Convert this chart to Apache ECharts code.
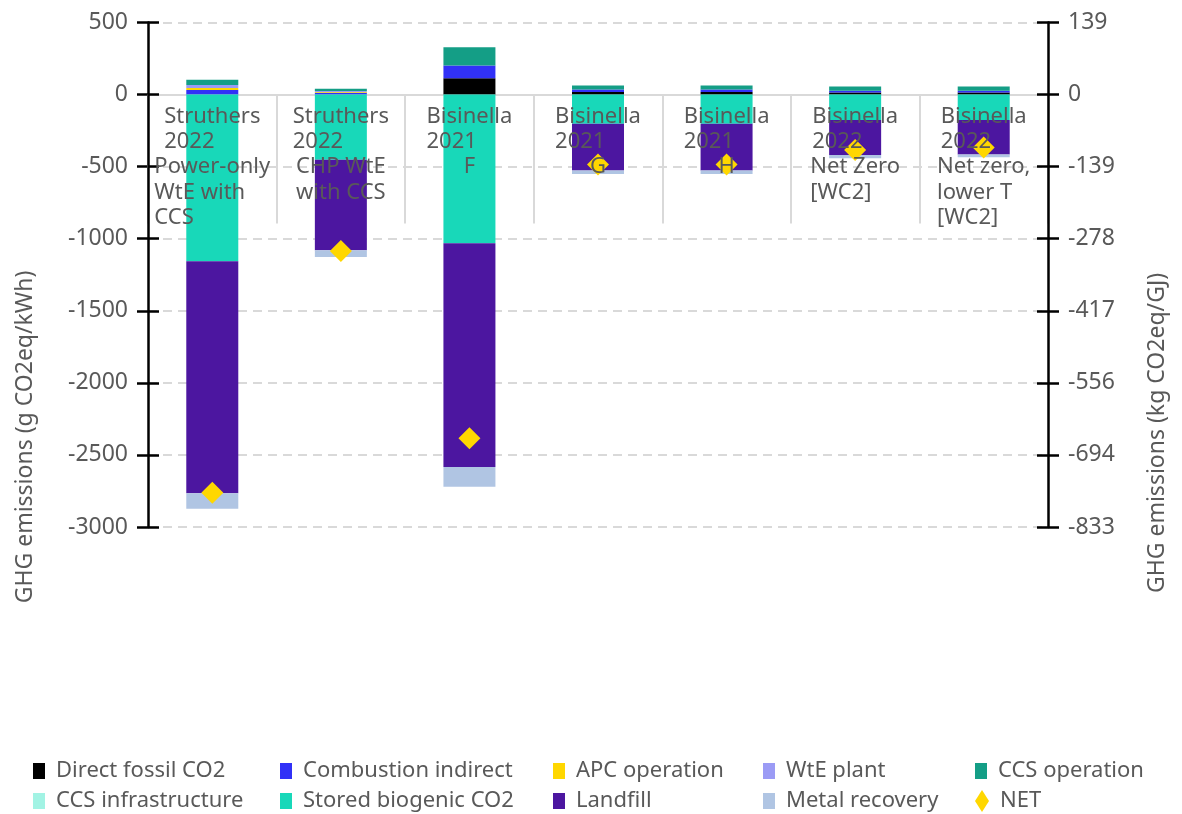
<!DOCTYPE html>
<html>
<head>
<meta charset="utf-8">
<style>
  html, body { margin: 0; padding: 0; background: #ffffff; }
  #chart { width: 1182px; height: 814px; }
</style>
<script src="https://cdn.jsdelivr.net/npm/echarts@6/dist/echarts.min.js"></script>
</head>
<body>
<div id="chart"></div>
<script>
// ---- Category labels (blocks of lines) ----
const categoryBlocks = [
  [["Struthers", "2022"], ["Power-only", "WtE with", "CCS"]],
  [["Struthers", "2022"], ["CHP WtE", "with CCS"]],
  [["Bisinella", "2021"], ["F"]],
  [["Bisinella", "2021"], ["G"]],
  [["Bisinella", "2021"], ["H"]],
  [["Bisinella", "2022"], ["Net Zero", "[WC2]"]],
  [["Bisinella", "2022"], ["Net zero,", "lower T", "[WC2]"]]
];
const categories = categoryBlocks.map(b => b.map(l => l.join(" ")).join(" "));

// ---- Series values (g CO2eq/kWh) ----
const directFossil      = [0, 0, 113, 17, 17, 14, 14];
const combustionIndirect= [32, 12, 88, 18, 18, 12, 12];
const apcOperation      = [14, 6, 0, 0, 0, 0, 0];
const wtePlant          = [20, 6, 0, 0, 0, 0, 0];
const ccsOperation      = [36, 16, 127, 28, 28, 30, 30];
const ccsInfrastructure = [0, 0, 0, 0, 0, 0, 0];
const storedBiogenic    = [-1157, -452, -1032, -203, -203, -177, -177];
const landfill          = [-1608, -628, -1552, -323, -323, -242, -238];
const metalRecovery     = [-109, -46, -136, -25, -25, -23, -19];
const netValues         = [-2763, -1085, -2385, -485, -485, -384, -368];

// ---- Axis ticks ----
const leftMin = -3000, leftMax = 500, leftInterval = 500;
const rightMin = -3000 / 3.6, rightMax = 500 / 3.6, rightInterval = 500 / 3.6;

const FONT = "'Noto Sans', 'DejaVu Sans', sans-serif";
const TXT = '#595959';
const GRID = '#d9d9d9';

const GRID_TOP = 22.5, GRID_BOTTOM = 287, CHART_H = 814;
const plotH = CHART_H - GRID_TOP - GRID_BOTTOM;
const zeroFromBottom = plotH * (0 - leftMin) / (leftMax - leftMin);

// measure line widths so each block of lines is left-aligned and centred as a block
const cnv = document.createElement('canvas');
const ctx = cnv.getContext('2d');
ctx.font = "22px 'Noto Sans'";
const rich = {
  t: { align: 'center', fontSize: 22, fontFamily: FONT, color: TXT, lineHeight: 25.4 }
};
const labelStrings = categoryBlocks.map((blocks, i) =>
  blocks.map((lines, j) => {
    const widths = lines.map(l => ctx.measureText(l).width);
    const bw = Math.max(...widths);
    return lines.map((l, k) => {
      const gap = bw - widths[k];
      if (gap < 0.5) return '{t|' + l + '}';
      const key = 's' + i + '_' + j + '_' + k;
      rich[key] = { align: 'center', width: gap, fontSize: 22, fontFamily: FONT, lineHeight: 25.4, color: 'rgba(0,0,0,0)' };
      return '{t|' + l + '}{' + key + '| }';
    }).join('\n');
  }).join('\n')
);

const seriesDefs = [
  ['Direct fossil CO2', directFossil, '#000000'],
  ['Combustion indirect', combustionIndirect, '#3131F7'],
  ['APC operation', apcOperation, '#FFD700'],
  ['WtE plant', wtePlant, '#9B9BF5'],
  ['CCS operation', ccsOperation, '#149E86'],
  ['CCS infrastructure', ccsInfrastructure, '#A2F3E4'],
  ['Stored biogenic CO2', storedBiogenic, '#18D8B9'],
  ['Landfill', landfill, '#4C16A0'],
  ['Metal recovery', metalRecovery, '#B0C5E3']
];

const series = seriesDefs.map(([name, data, color]) => ({
  name, type: 'bar', stack: 'total', data,
  xAxisIndex: 0, yAxisIndex: 0, barWidth: 52,
  itemStyle: { color }, emphasis: { disabled: true }
}));
series.push({
  name: 'NET', type: 'scatter', data: netValues,
  xAxisIndex: 0, yAxisIndex: 0, symbol: 'diamond', symbolSize: 22,
  itemStyle: { color: '#FFD700', opacity: 1 }, z: 5, emphasis: { disabled: true }
});

// legend layout: 5 columns x 2 rows
const legendCols = [33, 280, 553, 763, 975];
const legendRows = [759, 789];
const legendNames = ['Direct fossil CO2', 'Combustion indirect', 'APC operation', 'WtE plant', 'CCS operation',
  'CCS infrastructure', 'Stored biogenic CO2', 'Landfill', 'Metal recovery', 'NET'];
const legends = legendNames.map((n, k) => ({
  data: [n],
  left: legendCols[k % 5], top: legendRows[Math.floor(k / 5)],
  padding: 0, selectedMode: false,
  itemWidth: n === 'NET' ? 14 : 12, itemHeight: n === 'NET' ? 22 : 16,
  icon: n === 'NET' ? 'diamond' : 'rect',
  itemStyle: { opacity: 1 },
  textStyle: { fontFamily: FONT, fontSize: 22, color: TXT, lineHeight: 24, padding: [0, 0, 0, 6] }
}));

const yTickLabel = { fontFamily: FONT, fontSize: 23, color: TXT, margin: 20 };

const option = {
  animation: false,
  backgroundColor: '#ffffff',
  grid: { left: 148, right: 134, top: GRID_TOP, bottom: GRID_BOTTOM, containLabel: false },
  legend: legends,
  xAxis: [
    {
      type: 'category', data: categories, position: 'bottom',
      axisLine: { show: true, onZero: true, onZeroAxisIndex: 0, lineStyle: { color: GRID, width: 2 } },
      axisTick: { show: true, interval: 0, length: 129, lineStyle: { color: GRID, width: 2 } },
      axisLabel: { show: false }, splitLine: { show: false }, z: 0
    },
    {
      type: 'category', data: categories, position: 'bottom',
      offset: -zeroFromBottom,
      axisLine: { show: false, onZero: false },
      axisTick: { show: false },
      axisLabel: {
        show: true, interval: 0, margin: 9, rich, align: 'center',
        fontFamily: FONT, fontSize: 22, color: TXT, lineHeight: 25.4,
        formatter: (v, idx) => labelStrings[idx]
      },
      splitLine: { show: false }, z: 10
    }
  ],
  yAxis: [
    {
      type: 'value', position: 'left', min: leftMin, max: leftMax, interval: leftInterval,
      axisLine: { show: false },
      axisTick: { show: true, inside: false, length: 11, lineStyle: { color: '#000', width: 2.5 } },
      axisLabel: Object.assign({}, yTickLabel, { formatter: v => String(v) }),
      splitLine: { show: true, lineStyle: { color: GRID, width: 2, type: [9, 6] } }, z: 0
    },
    {
      type: 'value', position: 'right', min: rightMin, max: rightMax, interval: rightInterval,
      axisLine: { show: false },
      axisTick: { show: true, inside: false, length: 11, lineStyle: { color: '#000', width: 2.5 } },
      axisLabel: Object.assign({}, yTickLabel, { formatter: v => String(Math.round(v)) }),
      splitLine: { show: false }, z: 0
    },
    {
      type: 'value', position: 'left', min: leftMin, max: leftMax, interval: leftInterval,
      axisLine: { show: true, onZero: false, lineStyle: { color: '#000', width: 2.5 } },
      axisTick: { show: true, inside: true, length: 11, lineStyle: { color: '#000', width: 2.5 } },
      axisLabel: { show: false }, splitLine: { show: false }, z: 4
    },
    {
      type: 'value', position: 'right', min: rightMin, max: rightMax, interval: rightInterval,
      axisLine: { show: true, onZero: false, lineStyle: { color: '#000', width: 2.5 } },
      axisTick: { show: true, inside: true, length: 11, lineStyle: { color: '#000', width: 2.5 } },
      axisLabel: { show: false }, splitLine: { show: false }, z: 4
    }
  ],
  graphic: [
    {
      type: 'text', x: 25, y: 437, rotation: Math.PI / 2,
      style: { text: 'GHG emissions (g CO2eq/kWh)', fontFamily: FONT, fontSize: 23, fill: TXT,
        textAlign: 'center', textVerticalAlign: 'middle' }
    },
    {
      type: 'text', x: 1157, y: 433, rotation: Math.PI / 2,
      style: { text: 'GHG emissions (kg CO2eq/GJ)', fontFamily: FONT, fontSize: 23, fill: TXT,
        textAlign: 'center', textVerticalAlign: 'middle' }
    }
  ],
  series
};

const chart = echarts.init(document.getElementById('chart'), null, { renderer: 'canvas' });
chart.setOption(option);
</script>
</body>
</html>
